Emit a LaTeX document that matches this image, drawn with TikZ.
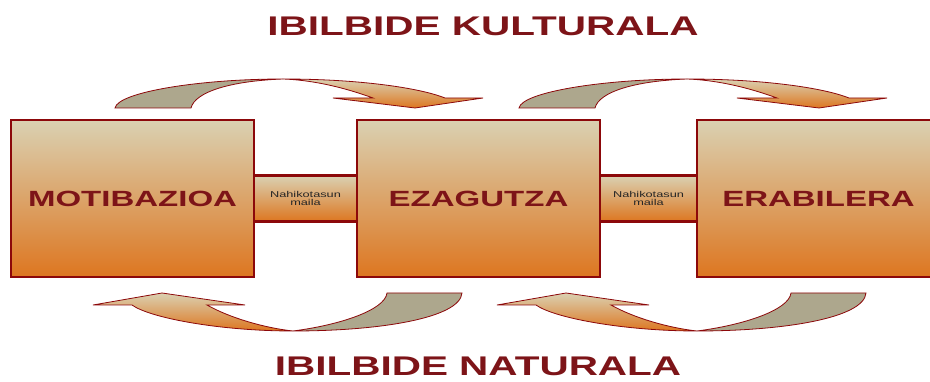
\documentclass[tikz,border=0pt]{standalone}
\usepackage{fontspec}
\setmainfont{Liberation Sans}
\newfontfamily\widesans[FakeStretch=1.5]{Liberation Sans}
\usepackage{tikz}
\usetikzlibrary{positioning}

\definecolor{boxtop}{RGB}{218,209,178}
\definecolor{boxbot}{RGB}{221,118,32}
\definecolor{rim}{RGB}{140,8,10}
\definecolor{wine}{RGB}{125,20,24}
\definecolor{tailgray}{RGB}{173,167,141}

\begin{document}
\begin{tikzpicture}[x=1pt,y=-1pt,
	stage/.style={draw=rim,line width=2.4pt,top color=boxtop,bottom color=boxbot,
		minimum width=243pt,minimum height=157pt,inner sep=0pt,outer sep=0pt,
		font=\widesans\bfseries\fontsize{22}{22}\selectfont,text=wine},
	level/.style={draw=rim,line width=2.4pt,top color=boxtop,bottom color=boxbot,
		minimum height=46pt,inner sep=0pt,outer sep=0pt,align=center,
		font=\widesans\fontsize{8.5}{8.5}\selectfont,text=black!85},
	title/.style={font=\widesans\bfseries\fontsize{27}{27}\selectfont,text=wine,
		anchor=base,inner sep=0pt},
	tail/.style={draw=rim,line width=0.8pt,fill=tailgray},
	head/.style={draw=rim,line width=0.8pt,top color=boxtop,bottom color=boxbot}]
	\useasboundingbox (0,0) rectangle (930,382);
	\clip (0,0) rectangle (930,382);

	\node[title] (kultur) at (483,36) {IBILBIDE KULTURALA};
	\node[title] (natur) at (478,375) {IBILBIDE NATURALA};

	\node[stage] (motib) at (132.5,198.5) {MOTIBAZIOA};
	\node[level,minimum width=103pt,right=0pt of motib] (maila1) {Nahikotasun\\maila};
	\node[stage,right=0pt of maila1] (ezag) {EZAGUTZA};
	\node[level,minimum width=97pt,right=0pt of ezag] (maila2) {Nahikotasun\\maila};
	\node[stage,right=0pt of maila2] (erab) {ERABILERA};

	% kultur arrows, left to right
	\foreach \dx in {0,404}{
	\begin{scope}[xshift=\dx]
		\draw[tail] (115,108) .. controls (118,92) and (200,79) .. (283,79)
			.. controls (230,81) and (195,92) .. (191,108) -- cycle;
		\draw[head] (283,79) .. controls (360,79) and (420,88) .. (445,98)
			-- (483,98) -- (415,108) -- (333,98) -- (373,98)
			.. controls (340,86) and (310,80) .. (283,79) -- cycle;
	\end{scope}}

	% natur arrows, right to left
	\foreach \dx in {0,404}{
	\begin{scope}[xshift=\dx]
		\draw[tail] (462,293) .. controls (460,318) and (380,331) .. (293,331)
			.. controls (340,325) and (385,310) .. (387,293) -- cycle;
		\draw[head] (293,331) .. controls (220,331) and (150,318) .. (132,305)
			-- (93,305) -- (162,293) -- (245,305) -- (207,305)
			.. controls (230,318) and (265,328) .. (293,331) -- cycle;
	\end{scope}}
\end{tikzpicture}
\end{document}
